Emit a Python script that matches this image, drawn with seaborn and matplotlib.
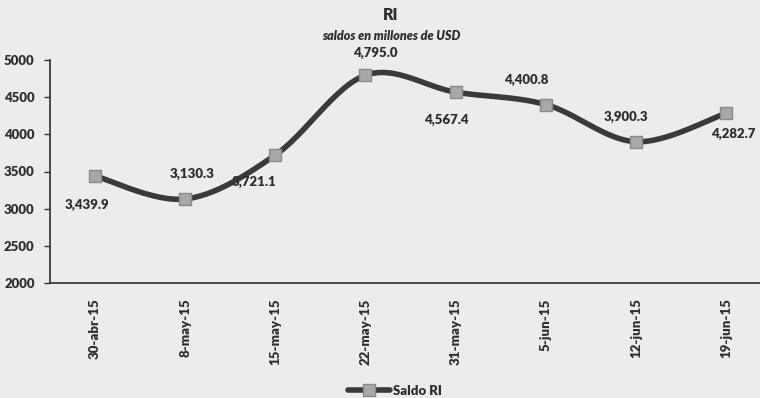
import numpy as np
import pandas as pd
import matplotlib
matplotlib.use("Agg")
import matplotlib.pyplot as plt
from matplotlib.lines import Line2D
import seaborn as sns

fechas = ["30-abr-15", "8-may-15", "15-may-15", "22-may-15",
          "31-may-15", "5-jun-15", "12-jun-15", "19-jun-15"]
saldo_ri = [3439.9, 3130.3, 3721.1, 4795.0, 4567.4, 4400.8, 3900.3, 4282.7]
y_ticks = [2000, 2500, 3000, 3500, 4000, 4500, 5000]
serie = "Saldo RI"
titulo = "RI"
subtitulo = "saldos en millones de USD"

# label offsets in points (dx, dy) relative to each marker
label_offsets = [(-6, -21), (5, 18), (-15, -19), (7, 16),
                 (-7, -20), (-14, 18), (-7, 18), (5, -15)]

df = pd.DataFrame({"fecha": fechas, "saldo": saldo_ri, "x": range(len(fechas))})

bg = "#ececec"
ink = "#2e2e2e"
line_col = "#3a3a3a"
marker_face = "#a8a8a8"
marker_edge = "#8a8a8a"
W = "heavy"
FS = 9.5

sns.set_theme(style="white")
plt.rcParams["font.family"] = ["Lato", "DejaVu Sans"]
plt.rcParams["font.weight"] = W

fig = plt.figure(figsize=(7.6, 3.98), dpi=100, facecolor=bg)
ax = fig.add_axes([50 / 760, 1 - 283 / 398, 721 / 760, 223 / 398])
ax.set_facecolor(bg)


def smooth_curve(xs, ys, steps=30):
    """Catmull-Rom style smoothing used for the drawn line."""
    xs = np.asarray(xs, float)
    ys = np.asarray(ys, float)
    px = np.concatenate([[xs[0]], xs, [xs[-1]]])
    py = np.concatenate([[ys[0]], ys, [ys[-1]]])
    out_x, out_y = [], []
    t = np.linspace(0, 1, steps)
    for i in range(1, len(px) - 2):
        p0, p1, p2, p3 = py[i - 1], py[i], py[i + 1], py[i + 2]
        q0, q1, q2, q3 = px[i - 1], px[i], px[i + 1], px[i + 2]
        # cubic Bezier with tangents of 1/6 the neighbour span
        c1y, c2y = p1 + (p2 - p0) / 6, p2 - (p3 - p1) / 6
        c1x, c2x = q1 + (q2 - q0) / 6, q2 - (q3 - q1) / 6
        bx = (1 - t) ** 3 * q1 + 3 * (1 - t) ** 2 * t * c1x + 3 * (1 - t) * t ** 2 * c2x + t ** 3 * q2
        by = (1 - t) ** 3 * p1 + 3 * (1 - t) ** 2 * t * c1y + 3 * (1 - t) * t ** 2 * c2y + t ** 3 * p2
        out_x.extend(bx)
        out_y.extend(by)
    return np.array(out_x), np.array(out_y)


cx, cy = smooth_curve(df["x"], df["saldo"])
ax.plot(cx, cy, color=line_col, lw=4, solid_capstyle="round", zorder=2)
sns.scatterplot(data=df, x="x", y="saldo", marker="s", s=70, color=marker_face,
                edgecolor=marker_edge, linewidth=1, ax=ax, zorder=3, legend=False)

for (xi, yi), (dx, dy) in zip(zip(df["x"], df["saldo"]), label_offsets):
    ax.annotate(f"{yi:,.1f}", (xi, yi), xytext=(dx, dy), textcoords="offset points",
                ha="center", va="center", fontsize=FS, fontweight=W, color=ink)

ax.set_xlim(-0.5, len(fechas) - 0.5)
ax.set_ylim(2000, 5000)
ax.set_yticks(y_ticks)
ax.set_yticklabels([str(v) for v in y_ticks], fontsize=FS, fontweight=W, color=ink)
ax.set_xticks(range(len(fechas)))
ax.set_xticklabels(fechas, rotation=90, fontsize=FS, fontweight=W, color=ink)
ax.set_xticks(np.arange(-0.5, len(fechas), 1), minor=True)
ax.tick_params(axis="x", which="major", length=0, pad=11)
ax.tick_params(axis="x", which="minor", length=4, width=1, color=ink, direction="out")
ax.tick_params(axis="y", length=4, width=1, color=ink, direction="out", pad=7, left=True)
ax.set_xlabel("")
ax.set_ylabel("")
for side in ["top", "right"]:
    ax.spines[side].set_visible(False)
for side in ["left", "bottom"]:
    ax.spines[side].set_color(ink)
    ax.spines[side].set_linewidth(1.2)

fig.text(391 / 760, 1 - 15 / 398, titulo, ha="center", va="center",
         fontsize=11.5, fontweight=W, color=ink)
fig.text(391 / 760, 1 - 36 / 398, subtitulo, ha="center", va="center",
         fontsize=9, fontweight=W, style="italic", color=ink)

handle = Line2D([], [], color=line_col, lw=4, marker="s", markersize=8,
                markerfacecolor=marker_face, markeredgecolor=marker_edge)
fig.legend([handle], [serie], loc="center", bbox_to_anchor=(395 / 760, 7 / 398),
           frameon=False, handlelength=3.2, handletextpad=0.2,
           labelcolor=ink, prop={"weight": W, "size": FS})

fig.savefig("out.png", dpi=100, facecolor=bg)
